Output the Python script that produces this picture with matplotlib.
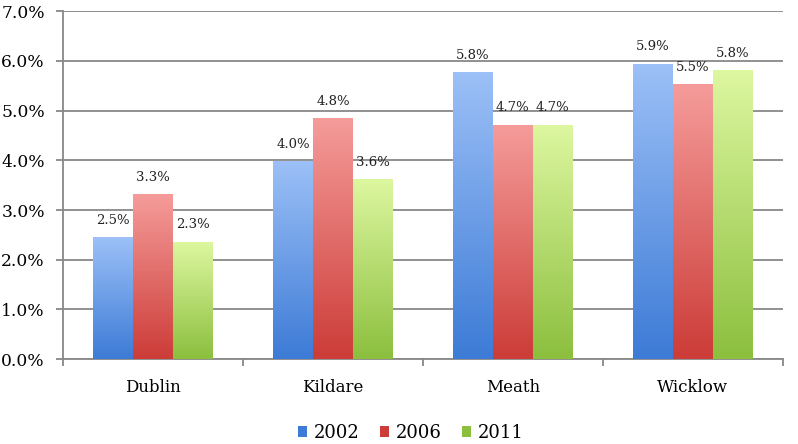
import numpy as np
import matplotlib
matplotlib.use('Agg')
import matplotlib.pyplot as plt
from matplotlib.colors import LinearSegmentedColormap
from matplotlib.patches import Patch

counties = ['Dublin', 'Kildare', 'Meath', 'Wicklow']
years = ['2002', '2006', '2011']
# bar heights (%)
share_2002 = [2.44, 3.97, 5.76, 5.93]
share_2006 = [3.30, 4.83, 4.70, 5.51]
share_2011 = [2.35, 3.60, 4.70, 5.80]
# printed data labels
labels_2002 = ['2.5%', '4.0%', '5.8%', '5.9%']
labels_2006 = ['3.3%', '4.8%', '4.7%', '5.5%']
labels_2011 = ['2.3%', '3.6%', '4.7%', '5.8%']

series = [share_2002, share_2006, share_2011]
series_labels = [labels_2002, labels_2006, labels_2011]
# (top colour, bottom colour) for the gradient fill
shades = [('#9cc0f7', '#3d7bd6'), ('#f59c9a', '#cc3c38'), ('#ddf7a0', '#8cbf3e')]

plt.rcParams['font.family'] = ['DejaVu Serif']

fig = plt.figure(figsize=(7.98, 4.44), dpi=100)
ax = fig.add_axes([0.079, 0.191, 0.902, 0.784])

x = np.arange(len(counties))
w = 0.222
grad = np.linspace(0, 1, 256).reshape(-1, 1)

for i, (vals, labs, (top, bot)) in enumerate(zip(series, series_labels, shades)):
    bars = ax.bar(x + (i - 1) * w, vals, w, color='none', zorder=3)
    cmap = LinearSegmentedColormap.from_list('g%d' % i, [bot, top])
    for b, lab in zip(bars, labs):
        x0, h = b.get_x(), b.get_height()
        ax.imshow(grad, cmap=cmap, aspect='auto', origin='lower',
                  extent=(x0, x0 + b.get_width(), 0, h), zorder=3)
        ax.annotate(lab, (x0 + b.get_width() / 2, h), xytext=(0, 8),
                    textcoords='offset points', ha='center', va='bottom',
                    fontsize=9.5, color='#222222')

ax.set_xlim(-0.5, 3.5)
ax.set_ylim(0, 7)
ax.set_yticks(np.arange(0, 8))
ax.set_yticklabels(['%.1f%%' % v for v in range(8)], fontsize=12.3)
ax.set_xticks(x)
ax.set_xticklabels(counties, fontsize=12)
ax.set_xticks(np.arange(-0.5, 4, 1), minor=True)
ax.tick_params(axis='x', which='major', length=0, pad=14)
ax.tick_params(axis='x', which='minor', length=5, color='#888888', width=1.3)
ax.tick_params(axis='y', length=5, color='#888888', width=1.3, pad=8)
ax.grid(axis='y', color='#888888', linewidth=1.3, zorder=0)
ax.set_axisbelow(True)
for s in ['top', 'right']:
    ax.spines[s].set_visible(False)
for s in ['left', 'bottom']:
    ax.spines[s].set_color('#888888')
    ax.spines[s].set_linewidth(1.3)

handles = [Patch(facecolor=c[1], edgecolor='none') for c in shades]
fig.legend(handles, years, loc='lower center', bbox_to_anchor=(0.515, -0.032),
           ncol=3, frameon=False, fontsize=13, handlelength=0.5,
           handleheight=0.5, handletextpad=0.4, columnspacing=1.1)

fig.savefig('out.png', dpi=100)
